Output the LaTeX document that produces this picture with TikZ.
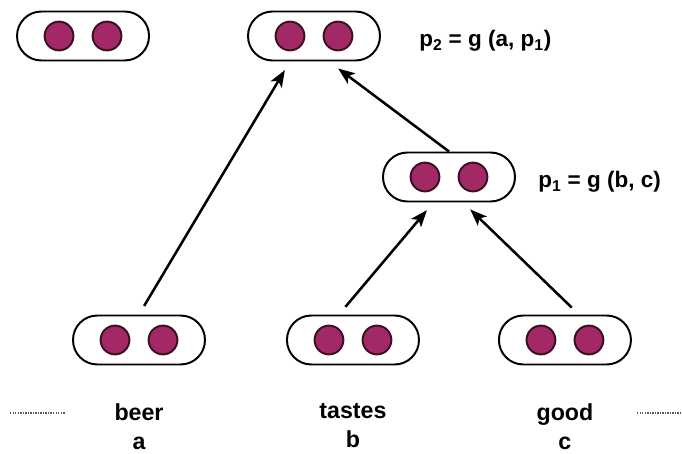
\documentclass[tikz,border=0pt]{standalone}
\usepackage{fontspec}
\setmainfont{Liberation Sans}
\usetikzlibrary{arrows.meta,positioning}

\definecolor{cellfill}{RGB}{162,40,102}
\definecolor{celledge}{RGB}{60,15,35}

\begin{document}
\begin{tikzpicture}[>={Stealth[length=0.42cm,width=0.32cm,inset=0.1cm]},
	cell/.style={fill=cellfill,draw=celledge,line width=1.4pt},
	vec/.style={draw,line width=1.4pt,rounded corners=0.61cm,minimum width=3.3cm,
		minimum height=1.225cm,inner sep=0pt,
		path picture={
			\draw[cell] ([xshift=-0.6cm]path picture bounding box.center) circle (0.36cm);
			\draw[cell] ([xshift=0.6cm]path picture bounding box.center) circle (0.36cm);}},
	link/.style={->,line width=1.8pt,shorten >=0.25cm,shorten <=0.25cm},
	word/.style={font=\fontsize{16.5}{20.6}\selectfont\bfseries,align=center,inner sep=0pt},
	eq/.style={font=\fontsize{16}{20}\selectfont\bfseries,inner sep=0pt},
	gap/.style={black!65,line width=1pt,dash pattern=on 1pt off 0.8pt}]
	
	\useasboundingbox (0,0) rectangle (17.05,-11.35);
	
	\node[vec] (p2) at (7.85,-0.9) {};
	\node[vec, left=2.425cm of p2] (prev) {};
	\node[vec] (p1) at (11.225,-4.425) {};
	\node[vec] (beer) at (3.475,-8.5) {};
	\node[vec, right=2cm of beer] (tastes) {};
	\node[vec, right=1.95cm of tastes] (good) {};
	
	% parent vectors
	\node[eq, right=0.95cm of p2, yshift=-0.12cm] (p2eq) {p\textsubscript{2} = g (a, p\textsubscript{1})};
	\node[eq, right=0.55cm of p1, yshift=-0.12cm] (p1eq) {p\textsubscript{1} = g (b, c)};
	
	% words
	\node[word, below=0.95cm of beer] (wa) {beer\\a};
	\node[word, below=0.95cm of tastes] (wb) {tastes\\b};
	\node[word, below=0.95cm of good] (wc) {good\\c};
	\draw[gap] (0.25,-10.325) -- (1.625,-10.325);
	\draw[gap] (15.925,-10.325) -- (17.05,-10.325);
	
	\draw[link] (beer.north) -- ([xshift=-0.6cm]p2.south);
	\draw[link, shorten <=0pt, shorten >=0.29cm] (p1.north) -- ([xshift=0.37cm]p2.south);
	\draw[link] ([xshift=-0.35cm]tastes.north) -- ([xshift=-0.39cm]p1.south);
	\draw[link] ([xshift=0.35cm]good.north) -- ([xshift=0.35cm]p1.south);
\end{tikzpicture}
\end{document}
